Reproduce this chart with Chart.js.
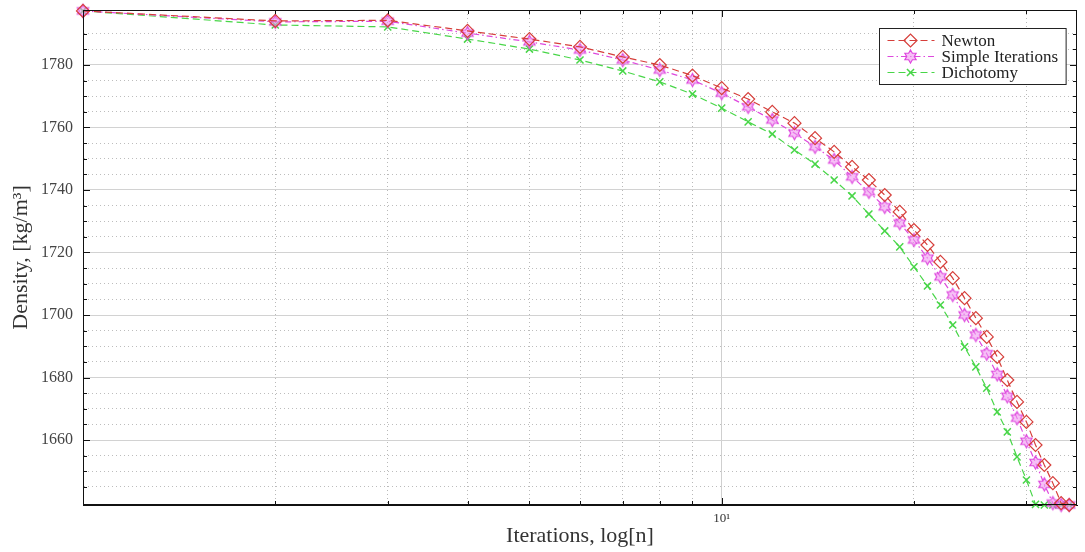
<!DOCTYPE html>
<html lang="en">
<head>
  <meta charset="UTF-8">
  <title>Density vs iterations</title>
  <script src="https://cdn.jsdelivr.net/npm/chart.js"></script>
  <style>
    html, body { margin: 0; padding: 0; background: #fff; }
  </style>
</head>
<body>

<canvas id="densityChart" width="1085" height="552"></canvas>

<script>
  // iteration numbers (x, log scale)
  const iterations = [1, 2, 3, 4, 5, 6, 7, 8, 9, 10, 11, 12, 13, 14, 15, 16, 17, 18,
    19, 20, 21, 22, 23, 24, 25, 26, 27, 28, 29, 30, 31, 32, 33, 34, 35];

  // density, kg/m3
  const newton = [1797.3, 1794.1, 1794.3, 1790.9, 1788.3, 1785.8, 1782.6, 1780.0, 1776.6,
    1772.6, 1769.1, 1765.0, 1761.4, 1756.6, 1752.2, 1747.4, 1743.2, 1738.4, 1733.0, 1727.2,
    1722.4, 1717.0, 1711.8, 1705.4, 1699.0, 1693.0, 1686.6, 1679.2, 1672.2, 1665.8, 1658.4,
    1652.0, 1646.2, 1639.8, 1639.2];
  const simpleIterations = [1797.3, 1793.8, 1794.0, 1790.2, 1787.4, 1784.8, 1781.6, 1778.4,
    1775.2, 1771.0, 1766.6, 1762.4, 1758.2, 1753.8, 1749.6, 1744.2, 1739.4, 1734.6, 1729.4,
    1724.0, 1718.2, 1712.2, 1706.4, 1700.0, 1693.6, 1687.6, 1681.0, 1674.0, 1667.0, 1659.6,
    1652.8, 1645.8, 1639.8, 1639.2, 1639.2];
  const dichotomy = [1797.3, 1792.8, 1792.2, 1788.3, 1785.1, 1781.6, 1778.1, 1774.6, 1770.7,
    1766.2, 1761.8, 1757.9, 1752.8, 1748.3, 1743.2, 1738.1, 1732.3, 1726.9, 1721.8, 1715.4,
    1709.3, 1703.2, 1696.8, 1689.8, 1683.4, 1676.6, 1669.0, 1662.6, 1654.6, 1647.2, 1639.4,
    1639.2, 1639.2, 1639.2, 1639.2];

  const seriesNames = ['Newton', 'Simple Iterations', 'Dichotomy'];
  const yLabelValues = [1660, 1680, 1700, 1720, 1740, 1760, 1780];
  const xLabelValues = { 10: '10\u00B9' };

  const SERIF = '"Liberation Serif", "DejaVu Serif", serif';

  // six pointed star marker (like matlab 'h')
  function hexagram(stroke, fill, r) {
    const c = document.createElement('canvas');
    const s = Math.ceil(r * 2 + 4);
    c.width = s; c.height = s;
    const g = c.getContext('2d');
    g.beginPath();
    for (let k = 0; k < 12; k++) {
      const a = -Math.PI / 2 + k * Math.PI / 6;
      const rr = k % 2 ? r * 0.58 : r;
      g.lineTo(s / 2 + rr * Math.cos(a), s / 2 + rr * Math.sin(a));
    }
    g.closePath();
    g.fillStyle = fill;
    g.fill();
    g.strokeStyle = stroke;
    g.lineWidth = 1.2;
    g.stroke();
    return c;
  }

  function toPoints(ys) {
    return iterations.map((n, i) => ({ x: n, y: ys[i] }));
  }

  const red = 'rgb(214, 62, 58)';
  const pink = 'rgb(222, 72, 222)';
  const green = 'rgb(72, 214, 72)';

  // frame + inner tick marks
  const frame = {
    id: 'frame',
    afterDraw(chart) {
      const { ctx, chartArea: a, scales: { x, y } } = chart;
      ctx.save();
      ctx.strokeStyle = '#111';
      ctx.lineWidth = 1;
      ctx.strokeRect(a.left + 0.5, a.top + 0.5, a.right - a.left - 1, a.bottom - a.top - 1);
      ctx.beginPath();
      y.ticks.forEach(t => {
        if (t.value % 5 !== 0) return;
        const py = Math.round(y.getPixelForValue(t.value)) + 0.5;
        const len = t.value % 20 === 0 ? 7 : 4;
        ctx.moveTo(a.left, py); ctx.lineTo(a.left + len, py);
        ctx.moveTo(a.right, py); ctx.lineTo(a.right - len, py);
      });
      x.ticks.forEach(t => {
        if (t.value <= x.min || t.value >= x.max || t.value === 15) return;
        const px = Math.round(x.getPixelForValue(t.value)) + 0.5;
        const len = t.value === 10 ? 7 : 4;
        ctx.moveTo(px, a.bottom); ctx.lineTo(px, a.bottom - len);
        ctx.moveTo(px, a.top); ctx.lineTo(px, a.top + len);
      });
      ctx.stroke();
      ctx.restore();
    }
  };

  // boxed legend with line sample + marker
  const boxLegend = {
    id: 'boxLegend',
    afterDraw(chart) {
      const { ctx, chartArea: a } = chart;
      const sets = chart.data.datasets;
      ctx.save();
      ctx.font = '17px ' + SERIF;
      const textW = Math.max(...sets.map(d => ctx.measureText(d.label).width));
      const rowH = 16;
      const w = 62 + textW + 8;
      const h = rowH * sets.length + 8;
      const x0 = Math.round(a.right - 11 - w) + 0.5;
      const y0 = Math.round(a.top + 18) + 0.5;
      ctx.fillStyle = '#fff';
      ctx.fillRect(x0, y0, w, h);
      ctx.strokeStyle = '#222';
      ctx.lineWidth = 1;
      ctx.strokeRect(x0, y0, w, h);
      sets.forEach((d, i) => {
        const cy = y0 + 4 + rowH * (i + 0.5);
        ctx.strokeStyle = d.borderColor;
        ctx.lineWidth = d.borderWidth;
        ctx.setLineDash(d.borderDash);
        ctx.beginPath();
        ctx.moveTo(x0 + 8, cy);
        ctx.lineTo(x0 + 55, cy);
        ctx.stroke();
        ctx.setLineDash([]);
        ctx.fillStyle = d.pointBackgroundColor;
        ctx.strokeStyle = d.borderColor;
        ctx.lineWidth = d.pointBorderWidth;
        Chart.helpers.drawPoint(ctx, {
          pointStyle: d.pointStyle, radius: d.pointRadius, rotation: 0, borderWidth: d.pointBorderWidth
        }, x0 + 31, cy);
        ctx.fillStyle = '#222';
        ctx.textBaseline = 'middle';
        ctx.textAlign = 'left';
        ctx.fillText(d.label, x0 + 62, cy + 1);
      });
      ctx.restore();
    }
  };

  const ctx = document.getElementById('densityChart').getContext('2d');

  const chart = new Chart(ctx, {
    type: 'line',
    data: {
      datasets: [{
        label: seriesNames[0],
        data: toPoints(newton),
        borderColor: red,
        borderWidth: 1.2,
        borderDash: [7, 4],
        pointStyle: 'rectRot',
        pointRadius: 6.5,
        pointBorderWidth: 1.2,
        pointBackgroundColor: 'rgba(0,0,0,0)',
        pointBorderColor: red,
        clip: false,
      }, {
        label: seriesNames[1],
        data: toPoints(simpleIterations),
        borderColor: pink,
        borderWidth: 1.2,
        borderDash: [6, 3, 1.5, 3],
        pointStyle: hexagram(pink, 'rgba(240, 150, 240, 0.6)', 6.5),
        pointRadius: 6.5,
        pointBorderWidth: 1.2,
        pointBackgroundColor: 'rgba(240, 150, 240, 0.6)',
        pointBorderColor: pink,
        clip: false,
      }, {
        label: seriesNames[2],
        data: toPoints(dichotomy),
        borderColor: green,
        borderWidth: 1.2,
        borderDash: [7, 4],
        pointStyle: 'crossRot',
        pointRadius: 5,
        pointBorderWidth: 1.5,
        pointBackgroundColor: green,
        pointBorderColor: green,
        clip: false,
      }]
    },
    options: {
      responsive: false,
      animation: false,
      devicePixelRatio: 1,
      layout: { padding: { top: 10, right: 8, left: 0, bottom: 0 } },
      elements: { line: { tension: 0 } },
      plugins: {
        legend: { display: false },
        tooltip: { enabled: false },
      },
      scales: {
        x: {
          type: 'logarithmic',
          min: 1,
          max: 36,
          afterFit: s => { s.height = 47; },
          grid: {
            drawTicks: false,
            color: c => {
              const v = c.tick && c.tick.value;
              if (v === 10) return '#cfcfcf';
              if ((v >= 2 && v <= 9) || v === 20 || v === 30) return '#b9b9b9';
              return 'rgba(0,0,0,0)';
            },
          },
          border: {
            color: '#111',
            width: 1,
            dash: c => (c.tick && c.tick.value !== 10 ? [1, 3] : []),
          },
          ticks: {
            autoSkip: false,
            maxRotation: 0,
            padding: 6,
            color: '#333',
            font: { family: SERIF, size: 13 },
            callback: v => xLabelValues[v] || '',
          },
          title: {
            display: true,
            text: 'Iterations, log[n]',
            color: '#333',
            font: { family: SERIF, size: 22 },
            padding: { top: 0, bottom: 3 },
          },
        },
        y: {
          min: 1639.2,
          max: 1797.6,
          afterFit: s => { s.width = 83; s.paddingTop = 0; s.paddingBottom = 0; },
          grid: {
            drawTicks: false,
            color: c => {
              const v = c.tick && c.tick.value;
              if (yLabelValues.includes(v)) return '#d2d2d2';
              if (v % 5 === 0) return '#bdbdbd';
              return 'rgba(0,0,0,0)';
            },
          },
          border: {
            color: '#111',
            width: 1,
            dash: c => (c.tick && !yLabelValues.includes(c.tick.value) ? [1, 3] : []),
          },
          ticks: {
            stepSize: 5,
            autoSkip: false,
            padding: 10,
            color: '#444',
            font: { family: SERIF, size: 16 },
            callback: v => (yLabelValues.includes(v) ? String(v) : ''),
          },
          title: {
            display: true,
            text: 'Density, [kg/m\u00B3]',
            color: '#333',
            font: { family: SERIF, size: 22 },
            padding: { top: 8, bottom: 0 },
          },
        },
      },
    },
    plugins: [frame, boxLegend],
  });
</script>

</body>
</html>
